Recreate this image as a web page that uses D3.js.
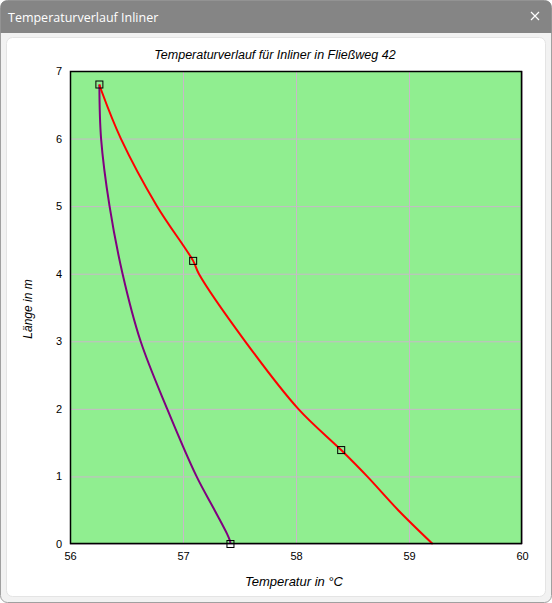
<!DOCTYPE html>
<html>
<head>
<meta charset="utf-8">
<script src="https://cdn.jsdelivr.net/npm/d3@7"></script>
<style>
  body { margin: 0; background: #ffffff; }
  text { font-family: "Liberation Sans", Arial, sans-serif; }
</style>
</head>
<body>
<div id="fenster"></div>
<script>
const fensterTitel = "Temperaturverlauf Inliner";
const diagrammTitel = "Temperaturverlauf für Inliner in Fließweg 42";
const xTitel = "Temperatur in °C";
const yTitel = "Länge in m";

const xTicks = [56, 57, 58, 59, 60];
const yTicks = [0, 1, 2, 3, 4, 5, 6, 7];

// Rote Kurve: [Temperatur, Länge]
const kurveRot = [
  [56.26, 6.80], [56.28, 6.70], [56.45, 6.00], [56.77, 5.00], [57.09, 4.19],
  [57.14, 4.00], [57.55, 3.00], [58.02, 2.00], [58.40, 1.39], [58.63, 1.00],
  [58.905, 0.50], [59.21, 0.00]
];

// Violette Kurve
const kurveLila = [
  [56.26, 6.80], [56.275, 6.00], [56.35, 5.00], [56.465, 4.00], [56.625, 3.00],
  [56.86, 2.00], [57.12, 1.00], [57.28, 0.50], [57.39, 0.15], [57.415, 0.05],
  [57.42, 0.00]
];

// Messpunkte (Quadrate)
const messpunkte = [[56.26, 6.80], [57.09, 4.19], [58.40, 1.39], [57.42, 0.00]];

const breite = 552;
const hoehe = 603;
const plot = { links: 70, rechts: 522, oben: 71, unten: 544 };

const svg = d3.select("#fenster")
  .append("svg")
  .attr("width", breite)
  .attr("height", hoehe);

// Fensterrahmen
svg.append("rect")
  .attr("x", 0.5).attr("y", 0.5)
  .attr("width", breite - 1).attr("height", hoehe - 1)
  .attr("rx", 7)
  .attr("fill", "#f2f2f2")
  .attr("stroke", "#a0a0a0");

svg.append("path")
  .attr("d", `M0.5,33 L0.5,7.5 Q0.5,0.5 7.5,0.5 L${breite - 7.5},0.5 Q${breite - 0.5},0.5 ${breite - 0.5},7.5 L${breite - 0.5},33 Z`)
  .attr("fill", "#858585");

svg.append("text")
  .attr("x", 8).attr("y", 22)
  .attr("fill", "#ffffff")
  .style("font-family", "'Open Sans', 'Noto Sans', sans-serif")
  .style("font-size", "12.5px")
  .text(fensterTitel);

// Schliessen-Kreuz
svg.append("path")
  .attr("d", "M531,12 L539,20 M539,12 L531,20")
  .attr("stroke", "#ffffff")
  .attr("stroke-width", 1.2);

// Innere Fläche
svg.append("rect")
  .attr("x", 6.5).attr("y", 37.5)
  .attr("width", 539).attr("height", 559)
  .attr("rx", 6)
  .attr("fill", "#ffffff")
  .attr("stroke", "#e4e4e4");

const x = d3.scaleLinear().domain([56, 60]).range([plot.links, plot.rechts]);
const y = d3.scaleLinear().domain([0, 7]).range([plot.unten, plot.oben]);

// Hintergrund
svg.append("rect")
  .attr("x", plot.links).attr("y", plot.oben)
  .attr("width", plot.rechts - plot.links)
  .attr("height", plot.unten - plot.oben)
  .attr("fill", "#90ee90");

// Gitterlinien
svg.append("g")
  .attr("transform", `translate(0,${plot.unten})`)
  .call(d3.axisBottom(x).tickValues(xTicks).tickSize(-(plot.unten - plot.oben)).tickFormat(""))
  .call(g => g.select(".domain").remove())
  .selectAll("line").attr("stroke", "#c8b8c8");

svg.append("g")
  .attr("transform", `translate(${plot.links},0)`)
  .call(d3.axisLeft(y).tickValues(yTicks).tickSize(-(plot.rechts - plot.links)).tickFormat(""))
  .call(g => g.select(".domain").remove())
  .selectAll("line").attr("stroke", "#c8b8c8");

// Achsenbeschriftungen
const xAchse = svg.append("g")
  .attr("transform", `translate(0,${plot.unten})`)
  .call(d3.axisBottom(x).tickValues(xTicks).tickSize(0).tickPadding(8).tickFormat(d3.format("d")));
xAchse.select(".domain").remove();
xAchse.selectAll("text").style("font-size", "11px").attr("fill", "#000");

const yAchse = svg.append("g")
  .attr("transform", `translate(${plot.links},0)`)
  .call(d3.axisLeft(y).tickValues(yTicks).tickSize(0).tickPadding(8).tickFormat(d3.format("d")));
yAchse.select(".domain").remove();
yAchse.selectAll("text").style("font-size", "11px").attr("fill", "#000");

// Linien
const linie = d3.line().curve(d3.curveCatmullRom.alpha(0.5)).x(d => x(d[0])).y(d => y(d[1]));

svg.append("path")
  .datum(kurveLila)
  .attr("d", linie)
  .attr("fill", "none")
  .attr("stroke", "#800080")
  .attr("stroke-width", 2);

svg.append("path")
  .datum(kurveRot)
  .attr("d", linie)
  .attr("fill", "none")
  .attr("stroke", "#ff0000")
  .attr("stroke-width", 2);

// Rahmen des Plotbereichs
svg.append("rect")
  .attr("x", plot.links + 0.5).attr("y", plot.oben + 0.5)
  .attr("width", plot.rechts - plot.links - 1)
  .attr("height", plot.unten - plot.oben - 1)
  .attr("fill", "none")
  .attr("stroke", "#000")
  .attr("stroke-width", 1.5);

// Messpunkte
svg.selectAll("rect.punkt")
  .data(messpunkte)
  .enter().append("rect")
  .attr("class", "punkt")
  .attr("x", d => x(d[0]) - 3.5)
  .attr("y", d => y(d[1]) - 3.5)
  .attr("width", 7).attr("height", 7)
  .attr("fill", "none")
  .attr("stroke", "#000")
  .attr("stroke-width", 1);

// Titel
svg.append("text")
  .attr("x", 275).attr("y", 59)
  .attr("text-anchor", "middle")
  .style("font-size", "12.5px")
  .style("font-style", "italic")
  .text(diagrammTitel);

svg.append("text")
  .attr("x", 294).attr("y", 586)
  .attr("text-anchor", "middle")
  .style("font-size", "13px")
  .style("font-style", "italic")
  .text(xTitel);

svg.append("text")
  .attr("transform", `translate(32,309) rotate(-90)`)
  .attr("text-anchor", "middle")
  .style("font-size", "12px")
  .style("font-style", "italic")
  .text(yTitel);
</script>
</body>
</html>
